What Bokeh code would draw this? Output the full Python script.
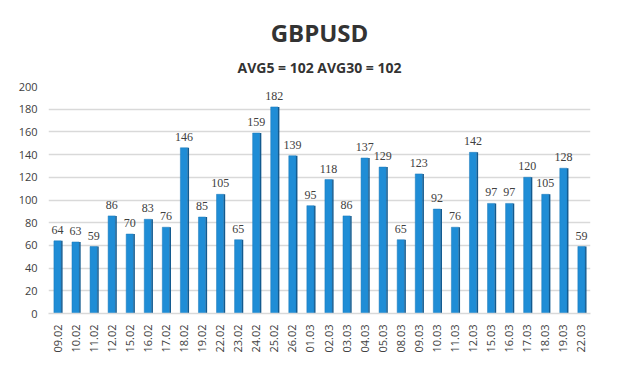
import math
from bokeh.plotting import figure
from bokeh.models import ColumnDataSource, Title, LabelSet, FactorRange, Range1d, FixedTicker
from bokeh.transform import dodge
from bokeh.embed import file_html
from bokeh.resources import INLINE

dates = ["09.02", "10.02", "11.02", "12.02", "15.02", "16.02", "17.02", "18.02", "19.02", "22.02",
         "23.02", "24.02", "25.02", "26.02", "01.03", "02.03", "03.03", "04.03", "05.03", "08.03",
         "09.03", "10.03", "11.03", "12.03", "15.03", "16.03", "17.03", "18.03", "19.03", "22.03"]
values = [64, 63, 59, 86, 70, 83, 76, 146, 85, 105,
          65, 159, 182, 139, 95, 118, 86, 137, 129, 65,
          123, 92, 76, 142, 97, 97, 120, 105, 128, 59]
y_ticks = [0, 20, 40, 60, 80, 100, 120, 140, 160, 180, 200]
title_text = "GBPUSD"
subtitle_text = "AVG5 = 102 AVG30 = 102"

FONT = "Open Sans"
TXT = "#404040"

src = ColumnDataSource(dict(d=dates, v=values, lab=[str(v) for v in values]))

p = figure(width=604, height=371, x_range=FactorRange(*dates, range_padding=0),
           y_range=Range1d(0, 200), output_backend="svg", toolbar_location=None,
           title=title_text, min_border_left=48, min_border_right=14,
           min_border_top=86, min_border_bottom=58)
p.title.align = "center"
p.title.text_font = FONT
p.title.text_font_size = "24px"
p.title.text_font_style = "bold"
p.title.text_color = "#333333"
p.title.standoff = 4
p.add_layout(Title(text=subtitle_text, align="center", vertical_align="top", text_font=FONT,
                   text_font_size="14px", text_font_style="bold", text_color="#333333",
                   standoff=15), "above")

p.outline_line_color = None
p.background_fill_color = "white"
p.border_fill_color = "white"

# bars: front face, darker side strip
p.vbar(x="d", top="v", width=0.40, source=src, fill_color="#1f8dd6", line_color="#1a78b8", line_width=0.5)
p.vbar(x=dodge("d", 0.24, range=p.x_range), top="v", width=0.08, source=src,
       fill_color="#125a8f", line_color=None)

labels = LabelSet(x="d", y="v", text="lab", source=src, text_align="center", y_offset=7,
                  text_font_size="12px", text_color=TXT, text_font=FONT)
p.add_layout(labels)

p.xgrid.grid_line_color = None
p.ygrid.grid_line_color = "#d9d9d9"
p.ygrid.grid_line_width = 1.5
p.yaxis.ticker = FixedTicker(ticks=y_ticks)
p.yaxis.axis_line_color = None
p.yaxis.major_tick_line_color = None
p.yaxis.minor_tick_line_color = None
p.yaxis.major_label_text_font = FONT
p.yaxis.major_label_text_font_size = "11px"
p.yaxis.major_label_text_color = TXT
p.xaxis.axis_line_color = "#d9d9d9"
p.xaxis.axis_line_width = 1.5
p.xaxis.major_tick_line_color = None
p.xaxis.minor_tick_line_color = None
p.xaxis.major_label_orientation = math.pi / 2
p.xaxis.major_label_text_font = FONT
p.xaxis.major_label_text_font_size = "11px"
p.xaxis.major_label_text_color = TXT

open("out.html", "w").write(file_html(p, INLINE))
